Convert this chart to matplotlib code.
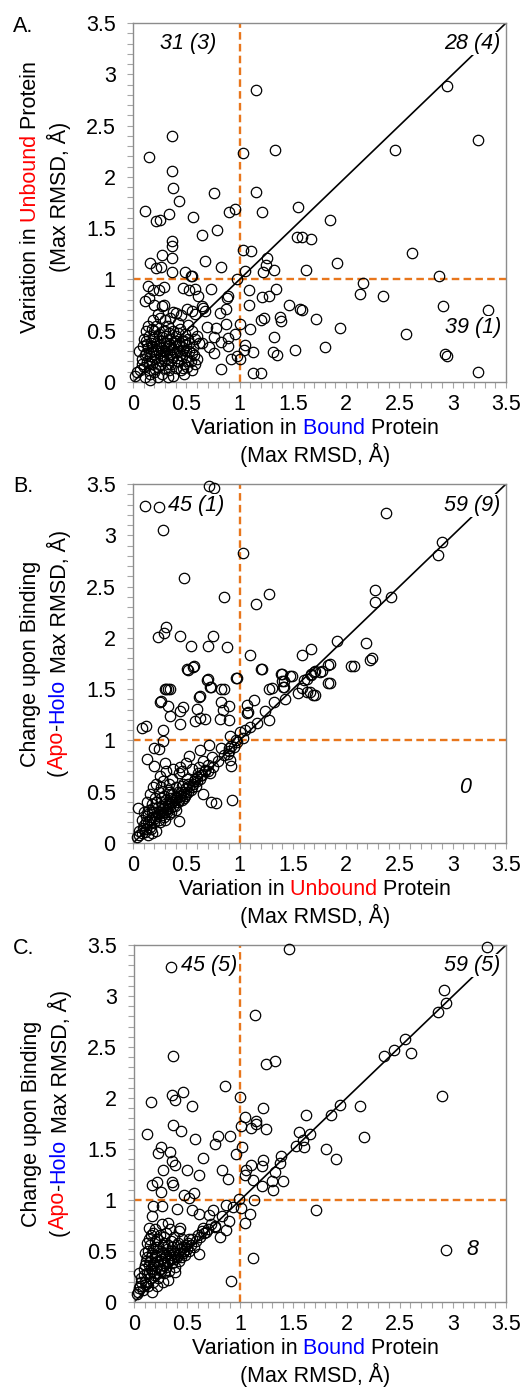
import matplotlib
matplotlib.use("Agg")
import matplotlib.pyplot as plt
from matplotlib.ticker import MultipleLocator, FuncFormatter
from matplotlib.transforms import Bbox
import numpy as np

plt.rcParams["font.family"] = "Liberation Sans"

# ── Panel A: bound (x) vs unbound (y) variation ──
A_X = [1.15, 2.95, 3.24, 0.37, 0.15, 1.03, 1.33, 2.46,
       0.37, 0.38, 0.43, 0.76, 1.15, 0.11, 0.22, 0.25, 0.34, 0.56, 0.65, 0.79, 0.90, 0.96, 1.21, 1.55, 1.85, 1.54, 1.59, 1.67,
       0.37, 0.37, 0.27, 0.37, 0.16, 0.22, 0.26, 0.37, 0.49, 0.55, 0.68, 0.83, 1.03, 1.11, 1.05, 1.26, 1.25, 1.22, 1.32, 1.62,
       1.91, 2.62, 2.87, 2.16, 2.13, 2.35, 2.91, 3.33, 2.56, 2.93, 2.95, 3.24,
       0.98, 1.09, 1.09, 1.10, 1.21, 1.28, 1.34, 1.46, 1.57, 1.59, 1.72, 1.94, 1.38, 1.39, 1.20, 1.23, 1.32, 1.31, 1.35, 1.52,
       1.80, 1.13, 1.20,
       1.00, 0.96, 1.05, 1.04, 1.13, 0.98, 1.00, 0.92, 0.83, 0.89, 0.89, 0.83, 0.87, 0.78, 0.69, 0.76, 0.82, 0.87, 0.88, 0.89,
       0.73, 0.66, 0.68, 0.65, 0.61, 0.58, 0.53, 0.47, 0.54, 0.51, 0.55, 0.58,
       0.14, 0.19, 0.24, 0.29, 0.11, 0.15, 0.20, 0.27, 0.29, 0.38, 0.40, 0.23, 0.65, 0.71, 0.76, 0.60, 0.33, 0.04, 0.02,
       0.06, 0.08, 0.09, 0.10, 0.10, 0.12, 0.12, 0.13, 0.14, 0.15, 0.15, 0.16, 0.17, 0.18, 0.18, 0.19, 0.20, 0.20, 0.21, 0.22,
       0.22, 0.23, 0.24, 0.24, 0.25, 0.26, 0.26, 0.27, 0.28, 0.28, 0.29, 0.30, 0.30, 0.31, 0.32, 0.33, 0.33, 0.34, 0.35, 0.35,
       0.36, 0.37, 0.38, 0.38, 0.39, 0.40, 0.40, 0.41, 0.42, 0.43, 0.44, 0.44, 0.45, 0.46, 0.47, 0.48, 0.49, 0.50, 0.50, 0.51,
       0.52, 0.53, 0.54, 0.55, 0.56, 0.57, 0.58, 0.60, 0.62, 0.07, 0.11, 0.16, 0.14, 0.30, 0.35, 0.42, 0.45, 0.25, 0.19, 0.52,
       0.48, 0.38, 0.55, 0.58,
       0.08, 0.11, 0.13, 0.15, 0.17, 0.19, 0.21, 0.22, 0.24, 0.25, 0.27, 0.28, 0.29, 0.31, 0.32, 0.33, 0.34, 0.36, 0.37, 0.39,
       0.40, 0.41, 0.43, 0.45, 0.46, 0.48, 0.50, 0.52, 0.53, 0.55, 0.18, 0.26, 0.35, 0.42, 0.20, 0.12, 0.30, 0.47, 0.23, 0.16]
A_Y = [2.85, 2.89, 2.36, 2.40, 2.19, 2.23, 2.26, 2.26,
       2.06, 1.89, 1.76, 1.84, 1.85, 1.67, 1.57, 1.58, 1.64, 1.61, 1.43, 1.48, 1.66, 1.69, 1.66, 1.71, 1.58, 1.41, 1.41, 1.39,
       1.37, 1.33, 1.24, 1.21, 1.16, 1.11, 1.12, 1.07, 1.07, 1.03, 1.18, 1.12, 1.29, 1.28, 1.08, 1.21, 1.14, 1.07, 1.09, 1.09,
       1.16, 1.26, 1.03, 0.97, 0.86, 0.84, 0.74, 0.70, 0.47, 0.27, 0.25, 0.10,
       1.00, 0.90, 0.75, 0.52, 0.83, 0.84, 0.91, 0.75, 0.71, 0.70, 0.61, 0.53, 0.63, 0.59, 0.60, 0.62, 0.44, 0.29, 0.26, 0.31,
       0.34, 0.09, 0.09,
       0.57, 0.47, 0.36, 0.31, 0.29, 0.25, 0.22, 0.22, 0.13, 0.35, 0.43, 0.39, 0.57, 0.53, 0.54, 0.44, 0.67, 0.71, 0.82, 0.84,
       0.91, 0.72, 0.69, 0.74, 0.84, 0.91, 0.90, 0.92, 1.03, 0.71, 0.69, 0.66,
       0.94, 0.90, 0.90, 0.93, 0.79, 0.82, 0.75, 0.74, 0.75, 0.68, 0.67, 0.66, 0.38, 0.34, 0.28, 0.22, 0.05, 0.10, 0.06,
       0.30, 0.22, 0.35, 0.15, 0.42, 0.28, 0.50, 0.20, 0.33, 0.12, 0.45, 0.25, 0.38, 0.52, 0.18, 0.30, 0.10, 0.42, 0.22, 0.35,
       0.55, 0.15, 0.28, 0.47, 0.40, 0.20, 0.33, 0.08, 0.50, 0.25, 0.38, 0.14, 0.30, 0.45, 0.22, 0.35, 0.55, 0.12, 0.27, 0.42,
       0.18, 0.32, 0.50, 0.24, 0.38, 0.14, 0.45, 0.29, 0.20, 0.36, 0.52, 0.26, 0.12, 0.40, 0.31, 0.18, 0.47, 0.24, 0.36, 0.15,
       0.42, 0.30, 0.20, 0.50, 0.34, 0.26, 0.42, 0.45, 0.38, 0.12, 0.05, 0.08, 0.55, 0.60, 0.62, 0.58, 0.65, 0.62, 0.60, 0.56,
       0.08, 0.06, 0.12, 0.18,
       0.18, 0.26, 0.37, 0.19, 0.29, 0.44, 0.13, 0.31, 0.36, 0.17, 0.44, 0.31, 0.21, 0.38, 0.28, 0.18, 0.48, 0.34, 0.24, 0.29,
       0.40, 0.20, 0.30, 0.35, 0.25, 0.40, 0.30, 0.20, 0.38, 0.28, 0.35, 0.26, 0.36, 0.48, 0.50, 0.40, 0.50, 0.14, 0.05, 0.02]

# ── Panel B: unbound variation (x) vs apo-holo change (y) ──
B_X = [0.71, 0.76, 0.11, 0.24, 0.28, 1.03, 2.37, 2.90, 2.86, 0.48, 0.85, 1.28, 1.15, 2.27, 2.27, 2.42,
       0.31, 0.29, 0.23, 0.44, 0.75, 0.54, 0.70, 0.88, 1.10, 1.91, 1.67, 1.59, 2.19, 2.24, 2.07, 1.85, 1.85, 1.77, 1.71, 1.67,
       1.63, 1.40, 1.49, 1.42, 1.42, 1.30, 1.59, 1.66, 1.71, 1.21, 0.52, 0.57, 0.70, 0.73, 0.85, 0.98, 0.31, 0.35, 0.26, 0.63,
       0.51, 0.56, 0.97, 0.69, 0.72, 0.83, 0.30, 0.33, 0.25, 0.33, 0.44, 0.47, 0.62, 0.60, 0.83, 0.84, 0.90, 0.35, 0.44, 0.58,
       0.63, 0.68, 0.82, 0.90, 0.08, 0.12, 0.28, 0.28, 0.20, 0.24, 0.13, 0.20, 0.30, 0.44, 0.53, 0.63, 0.71, 0.83, 0.90, 0.91,
       0.89, 0.91, 0.92, 0.74, 0.68, 0.66, 0.73, 0.78, 0.93, 0.43, 0.05,
       1.07, 1.08, 1.07, 1.14, 1.20, 1.28, 1.24, 1.16, 1.28, 1.32, 1.39, 1.40, 1.47, 1.41, 1.43, 1.60, 1.67, 1.70, 1.75, 1.83,
       1.83, 1.55, 1.63, 1.69, 2.05, 2.22, 1.00, 1.05, 1.10, 1.03, 0.97,
       0.55, 0.60, 0.65, 0.70, 0.72, 0.75, 0.80, 0.85, 0.90, 0.92, 0.95, 0.98,
       0.04, 0.06, 0.08, 0.08, 0.10, 0.10, 0.12, 0.12, 0.13, 0.14, 0.15, 0.16, 0.16, 0.18, 0.18, 0.19, 0.20, 0.20, 0.21, 0.22,
       0.23, 0.24, 0.24, 0.25, 0.26, 0.27, 0.28, 0.28, 0.29, 0.30, 0.30, 0.31, 0.32, 0.33, 0.34, 0.34, 0.35, 0.36, 0.37, 0.38,
       0.38, 0.39, 0.40, 0.40, 0.41, 0.42, 0.43, 0.44, 0.45, 0.46, 0.47, 0.48, 0.49, 0.50, 0.51, 0.52, 0.53, 0.55, 0.56, 0.58,
       0.60, 0.62, 0.64, 0.66, 0.68, 0.70, 0.22, 0.30, 0.36, 0.26, 0.18, 0.14, 0.34, 0.46, 0.50, 0.38, 0.25, 0.22,
       0.06, 0.09, 0.11, 0.12, 0.14, 0.16, 0.17, 0.19, 0.21, 0.22, 0.24, 0.25, 0.27, 0.28, 0.29, 0.31, 0.32, 0.33, 0.35, 0.36,
       0.37, 0.39, 0.40, 0.42, 0.43, 0.45, 0.46, 0.48, 0.50, 0.52, 0.54, 0.57, 0.59, 0.61, 0.63, 0.26, 0.18, 0.34]
B_Y = [3.48, 3.46, 3.29, 3.28, 3.05, 2.83, 3.22, 2.93, 2.81, 2.58, 2.40, 2.43, 2.33, 2.47, 2.35, 2.40,
       2.11, 2.05, 2.01, 2.02, 2.02, 1.92, 1.92, 1.91, 1.83, 1.97, 1.89, 1.83, 1.95, 1.80, 1.73, 1.75, 1.56, 1.68, 1.68, 1.64,
       1.60, 1.65, 1.63, 1.58, 1.52, 1.51, 1.51, 1.47, 1.44, 1.70, 1.69, 1.73, 1.60, 1.52, 1.50, 1.61, 1.50, 1.50, 1.38, 1.43,
       1.70, 1.72, 1.61, 1.59, 1.52, 1.50, 1.50, 1.50, 1.37, 1.34, 1.29, 1.33, 1.42, 1.31, 1.37, 1.30, 1.34, 1.24, 1.16, 1.19,
       1.22, 1.21, 1.21, 1.20, 1.12, 1.14, 1.10, 0.99, 0.93, 0.92, 0.82, 0.75, 0.78, 0.74, 0.85, 0.91, 0.96, 0.93, 0.93, 1.04,
       0.87, 0.81, 0.75, 0.84, 0.71, 0.48, 0.40, 0.39, 0.42, 0.21, 0.34,
       1.35, 1.28, 1.27, 1.39, 1.70, 1.50, 1.29, 1.17, 1.20, 1.37, 1.65, 1.58, 1.63, 1.52, 1.40, 1.59, 1.65, 1.67, 1.67, 1.74,
       1.56, 1.46, 1.47, 1.44, 1.73, 1.78, 1.08, 1.10, 1.13, 1.02, 1.00,
       0.55, 0.60, 0.66, 0.70, 0.68, 0.74, 0.80, 0.86, 0.90, 0.95, 0.94, 0.98,
       0.06, 0.12, 0.10, 0.22, 0.18, 0.30, 0.14, 0.26, 0.40, 0.20, 0.32, 0.16, 0.48, 0.25, 0.38, 0.55, 0.20, 0.30, 0.44, 0.26,
       0.35, 0.22, 0.50, 0.30, 0.40, 0.27, 0.60, 0.34, 0.46, 0.30, 0.38, 0.70, 0.33, 0.52, 0.36, 0.28, 0.44, 0.40, 0.62, 0.36,
       0.48, 0.42, 0.32, 0.55, 0.45, 0.40, 0.68, 0.46, 0.50, 0.42, 0.58, 0.50, 0.46, 0.54, 0.62, 0.50, 0.56, 0.72, 0.58, 0.62,
       0.64, 0.74, 0.66, 0.80, 0.70, 0.76, 0.12, 0.22, 0.30, 0.55, 0.10, 0.08, 0.58, 0.70, 0.78, 0.72, 0.65, 0.58,
       0.08, 0.15, 0.11, 0.20, 0.28, 0.22, 0.14, 0.34, 0.24, 0.40, 0.28, 0.20, 0.36, 0.30, 0.25, 0.42, 0.30, 0.38, 0.34, 0.48,
       0.40, 0.36, 0.44, 0.50, 0.42, 0.46, 0.56, 0.44, 0.48, 0.58, 0.52, 0.60, 0.56, 0.68, 0.62, 0.44, 0.30, 0.50]

# ── Panel C: bound variation (x) vs apo-holo change (y) ──
C_X = [1.46, 3.32, 0.35, 1.14, 2.92, 2.94, 2.86, 0.37, 1.24, 1.33, 2.35, 2.45, 2.55, 2.61, 2.90, 0.86, 1.00, 0.36, 0.39,
       0.46, 0.55, 0.16, 1.21, 1.04, 1.15, 1.62, 1.85, 1.94, 2.13,
       0.12, 0.37, 0.44, 0.57, 0.76, 0.79, 0.90, 1.01, 1.10, 1.15, 1.24, 1.02, 0.96, 1.05, 1.04, 1.12, 1.10, 1.21, 1.20, 1.20,
       1.33, 1.37, 1.38, 1.30, 1.31, 1.40, 1.52, 1.55, 1.59, 1.60, 1.66, 1.81, 1.90, 2.16, 1.71, 1.13, 1.12, 1.04, 1.09, 1.01,
       0.91, 2.94, 0.99, 0.93, 0.87, 0.87, 0.81, 0.89, 0.83, 0.74, 0.71, 0.61, 0.56, 0.55, 0.47, 0.52, 0.40, 0.26, 0.18, 0.17,
       0.22, 0.25, 0.37, 0.36, 0.50, 0.61, 0.65, 0.83, 0.88, 0.23, 0.25, 0.34, 0.36, 0.39, 0.27, 0.61, 0.68, 0.65, 0.76, 0.43,
       0.39, 0.32, 0.14, 0.17, 0.05, 0.03,
       0.04, 0.06, 0.07, 0.08, 0.09, 0.10, 0.11, 0.12, 0.13, 0.13, 0.14, 0.15, 0.15, 0.16, 0.17, 0.18, 0.18, 0.19, 0.20, 0.20,
       0.21, 0.22, 0.23, 0.23, 0.24, 0.25, 0.26, 0.27, 0.28, 0.28, 0.29, 0.30, 0.31, 0.32, 0.33, 0.34, 0.35, 0.36, 0.37, 0.38,
       0.39, 0.40, 0.41, 0.42, 0.43, 0.44, 0.45, 0.46, 0.47, 0.48, 0.50, 0.51, 0.52, 0.54, 0.55, 0.56, 0.58, 0.60, 0.62, 0.64,
       0.66, 0.70, 0.72, 0.76, 0.24, 0.30, 0.34, 0.38, 0.16, 0.26, 0.20, 0.42, 0.12, 0.10, 0.22, 0.17, 0.32, 0.27,
       0.05, 0.07, 0.09, 0.10, 0.11, 0.12, 0.14, 0.15, 0.16, 0.17, 0.18, 0.19, 0.20, 0.21, 0.22, 0.24, 0.25, 0.26, 0.27, 0.28,
       0.30, 0.31, 0.32, 0.33, 0.35, 0.36, 0.38, 0.40, 0.41, 0.43, 0.45, 0.47, 0.49, 0.52, 0.14, 0.18, 0.22, 0.28]
C_Y = [3.46, 3.48, 3.28, 2.81, 3.06, 2.93, 2.84, 2.41, 2.33, 2.36, 2.41, 2.47, 2.58, 2.44, 2.02, 2.12, 2.01, 2.03, 1.98,
       2.06, 1.92, 1.96, 1.90, 1.81, 1.77, 1.83, 1.83, 1.93, 1.92,
       1.65, 1.74, 1.68, 1.60, 1.55, 1.63, 1.63, 1.73, 1.71, 1.75, 1.70, 1.52, 1.45, 1.29, 1.25, 1.20, 1.34, 1.39, 1.33, 1.14,
       1.27, 1.36, 1.43, 1.19, 1.10, 1.19, 1.53, 1.67, 1.59, 1.52, 1.65, 1.50, 1.40, 1.62, 0.90, 1.00, 0.43, 0.77, 0.86, 0.92,
       0.21, 0.51, 1.01, 0.93, 0.95, 0.71, 0.64, 0.79, 0.84, 0.90, 0.85, 0.86, 1.07, 0.90, 1.05, 1.02, 0.91, 0.94, 0.94, 1.15,
       1.18, 1.08, 1.15, 1.18, 1.29, 1.25, 1.41, 1.29, 1.21, 1.46, 1.52, 1.47, 1.38, 1.34, 1.29, 0.47, 0.69, 0.73, 0.75, 0.73,
       0.29, 0.77, 0.73, 0.84, 0.28, 0.08,
       0.10, 0.16, 0.24, 0.12, 0.32, 0.20, 0.40, 0.28, 0.16, 0.50, 0.36, 0.24, 0.56, 0.44, 0.30, 0.20, 0.52, 0.38, 0.28, 0.60,
       0.46, 0.34, 0.24, 0.54, 0.40, 0.30, 0.48, 0.36, 0.58, 0.28, 0.44, 0.34, 0.52, 0.40, 0.30, 0.46, 0.60, 0.38, 0.50, 0.42,
       0.34, 0.56, 0.46, 0.40, 0.52, 0.44, 0.62, 0.48, 0.54, 0.46, 0.52, 0.58, 0.50, 0.56, 0.62, 0.54, 0.60, 0.66, 0.64, 0.70,
       0.68, 0.72, 0.76, 0.74, 0.66, 0.68, 0.72, 0.64, 0.66, 0.76, 0.72, 0.70, 0.58, 0.48, 0.16, 0.10, 0.22, 0.20,
       0.14, 0.20, 0.26, 0.36, 0.18, 0.44, 0.28, 0.40, 0.32, 0.48, 0.36, 0.26, 0.44, 0.54, 0.40, 0.32, 0.50, 0.42, 0.56, 0.38,
       0.46, 0.40, 0.56, 0.48, 0.42, 0.54, 0.48, 0.44, 0.58, 0.48, 0.54, 0.50, 0.56, 0.62, 0.62, 0.68, 0.62, 0.64]

# quadrant counts: (text, x, y, ha)
A_NOTES = [("31 (3)", 0.52, 3.30, "center"), ("28 (4)", 3.45, 3.30, "right"), ("39 (1)", 3.46, 0.53, "right")]
B_NOTES = [("45 (1)", 0.59, 3.29, "center"), ("59 (9)", 3.45, 3.29, "right"), ("0", 3.12, 0.54, "center")]
C_NOTES = [("45 (5)", 0.71, 3.30, "center"), ("59 (5)", 3.45, 3.30, "right"), ("8", 3.18, 0.51, "center")]

RED = "#FF0000"
BLUE = "#0000FF"
BLK = "black"
ORANGE = "#E8761C"
GRAY = "#8C8C8C"
FS = 15.5

X_LABELS = [
    [("Variation in", BLK), (" Bound", BLUE), (" Protein", BLK)],
    [("Variation in", BLK), (" Unbound", RED), (" Protein", BLK)],
    [("Variation in", BLK), (" Bound", BLUE), (" Protein", BLK)],
]
Y_LABELS = [
    [("Variation in", BLK), (" Unbound", RED), (" Protein", BLK)],
    [("Change upon Binding", BLK)],
    [("Change upon Binding", BLK)],
]
APO_HOLO = [("(", BLK), ("Apo", RED), ("-", BLK), ("Holo", BLUE), (" Max RMSD, Å)", BLK)]
Y_LABELS2 = [[("(Max RMSD, Å)", BLK)], APO_HOLO, APO_HOLO]
Y_POS = [(0.515, 0.515), (0.50, 0.53), (0.50, 0.53)]

_pending = []


def color_text(ax, x, y, pieces, vertical=False):
    arts = []
    rot = 90 if vertical else 0
    for i, (s, c) in enumerate(pieces):
        if i == 0:
            t = ax.text(x, y, s, transform=ax.transAxes, color=c, fontsize=FS,
                        rotation=rot, ha="left", va="bottom", clip_on=False)
        else:
            t = ax.annotate(s, xy=(0, 1) if vertical else (1, 0), xycoords=arts[-1],
                            color=c, fontsize=FS, rotation=rot, ha="left", va="bottom",
                            annotation_clip=False)
        arts.append(t)
    _pending.append((ax, x, y, arts))


def center_labels(fig):
    fig.canvas.draw()
    r = fig.canvas.get_renderer()
    for ax, x, y, arts in _pending:
        bb = Bbox.union([a.get_window_extent(r) for a in arts])
        tx, ty = ax.transAxes.transform((x, y))
        dx = tx - (bb.x0 + bb.x1) / 2
        dy = ty - (bb.y0 + bb.y1) / 2
        px, py = ax.transAxes.transform(arts[0].get_position())
        arts[0].set_position(ax.transAxes.inverted().transform((px + dx, py + dy)))


def draw_panel(ax, xs, ys, notes):
    ax.set_xlim(0, 3.5)
    ax.set_ylim(0, 3.5)
    ax.axvline(1, color=ORANGE, lw=1.7, ls=(0, (3.2, 1.8)), zorder=1)
    ax.axhline(1, color=ORANGE, lw=1.7, ls=(0, (3.2, 1.8)), zorder=1)
    ax.plot([0, 3.5], [0, 3.5], color="black", lw=1.2, zorder=2)
    ax.plot(xs, ys, "o", ls="none", mfc="none", mec="black", ms=7.5, mew=0.9,
            zorder=3, clip_on=False)
    ax.xaxis.set_major_locator(MultipleLocator(0.5))
    ax.yaxis.set_major_locator(MultipleLocator(0.5))
    ax.xaxis.set_minor_locator(MultipleLocator(0.1))
    ax.yaxis.set_minor_locator(MultipleLocator(0.1))
    fmt = FuncFormatter(lambda v, p: f"{v:g}")
    ax.xaxis.set_major_formatter(fmt)
    ax.yaxis.set_major_formatter(fmt)
    ax.tick_params(which="both", direction="out", length=4.5, width=0.8, color="#A6A6A6",
                   labelsize=FS)
    ax.tick_params(axis="x", which="major", pad=4)
    ax.tick_params(axis="y", which="major", pad=8)
    for sp in ax.spines.values():
        sp.set_color(GRAY)
        sp.set_linewidth(1.0)
    for txt, x, y, ha in notes:
        ax.text(x, y, txt, ha=ha, va="center", fontsize=FS, fontstyle="italic", zorder=4,
                bbox=dict(facecolor="white", edgecolor="none", pad=1.0))


W, H = 527, 1388
fig = plt.figure(figsize=(W / 100, H / 100), dpi=100)

# axes boxes in pixels: (left, top, right, bottom)
BOXES = [(133, 23, 506, 382), (133, 484, 506, 843), (134, 945, 506, 1302)]
DATA = [(A_X, A_Y, A_NOTES), (B_X, B_Y, B_NOTES), (C_X, C_Y, C_NOTES)]
LETTERS = ["A.", "B.", "C."]

for i, ((l, t, r, b), (xs, ys, notes)) in enumerate(zip(BOXES, DATA)):
    ax = fig.add_axes([l / W, 1 - b / H, (r - l) / W, (b - t) / H])
    draw_panel(ax, xs, ys, notes)
    color_text(ax, 0.488, -0.130, X_LABELS[i])
    color_text(ax, 0.488, -0.203, [("(Max RMSD, Å)", BLK)])
    color_text(ax, -0.275, Y_POS[i][0], Y_LABELS[i], vertical=True)
    color_text(ax, -0.198, Y_POS[i][1], Y_LABELS2[i], vertical=True)
    fig.text(13 / W, 1 - (t + 3) / H, LETTERS[i], fontsize=FS, ha="left", va="center")

center_labels(fig)
fig.savefig("out.png", dpi=100)
